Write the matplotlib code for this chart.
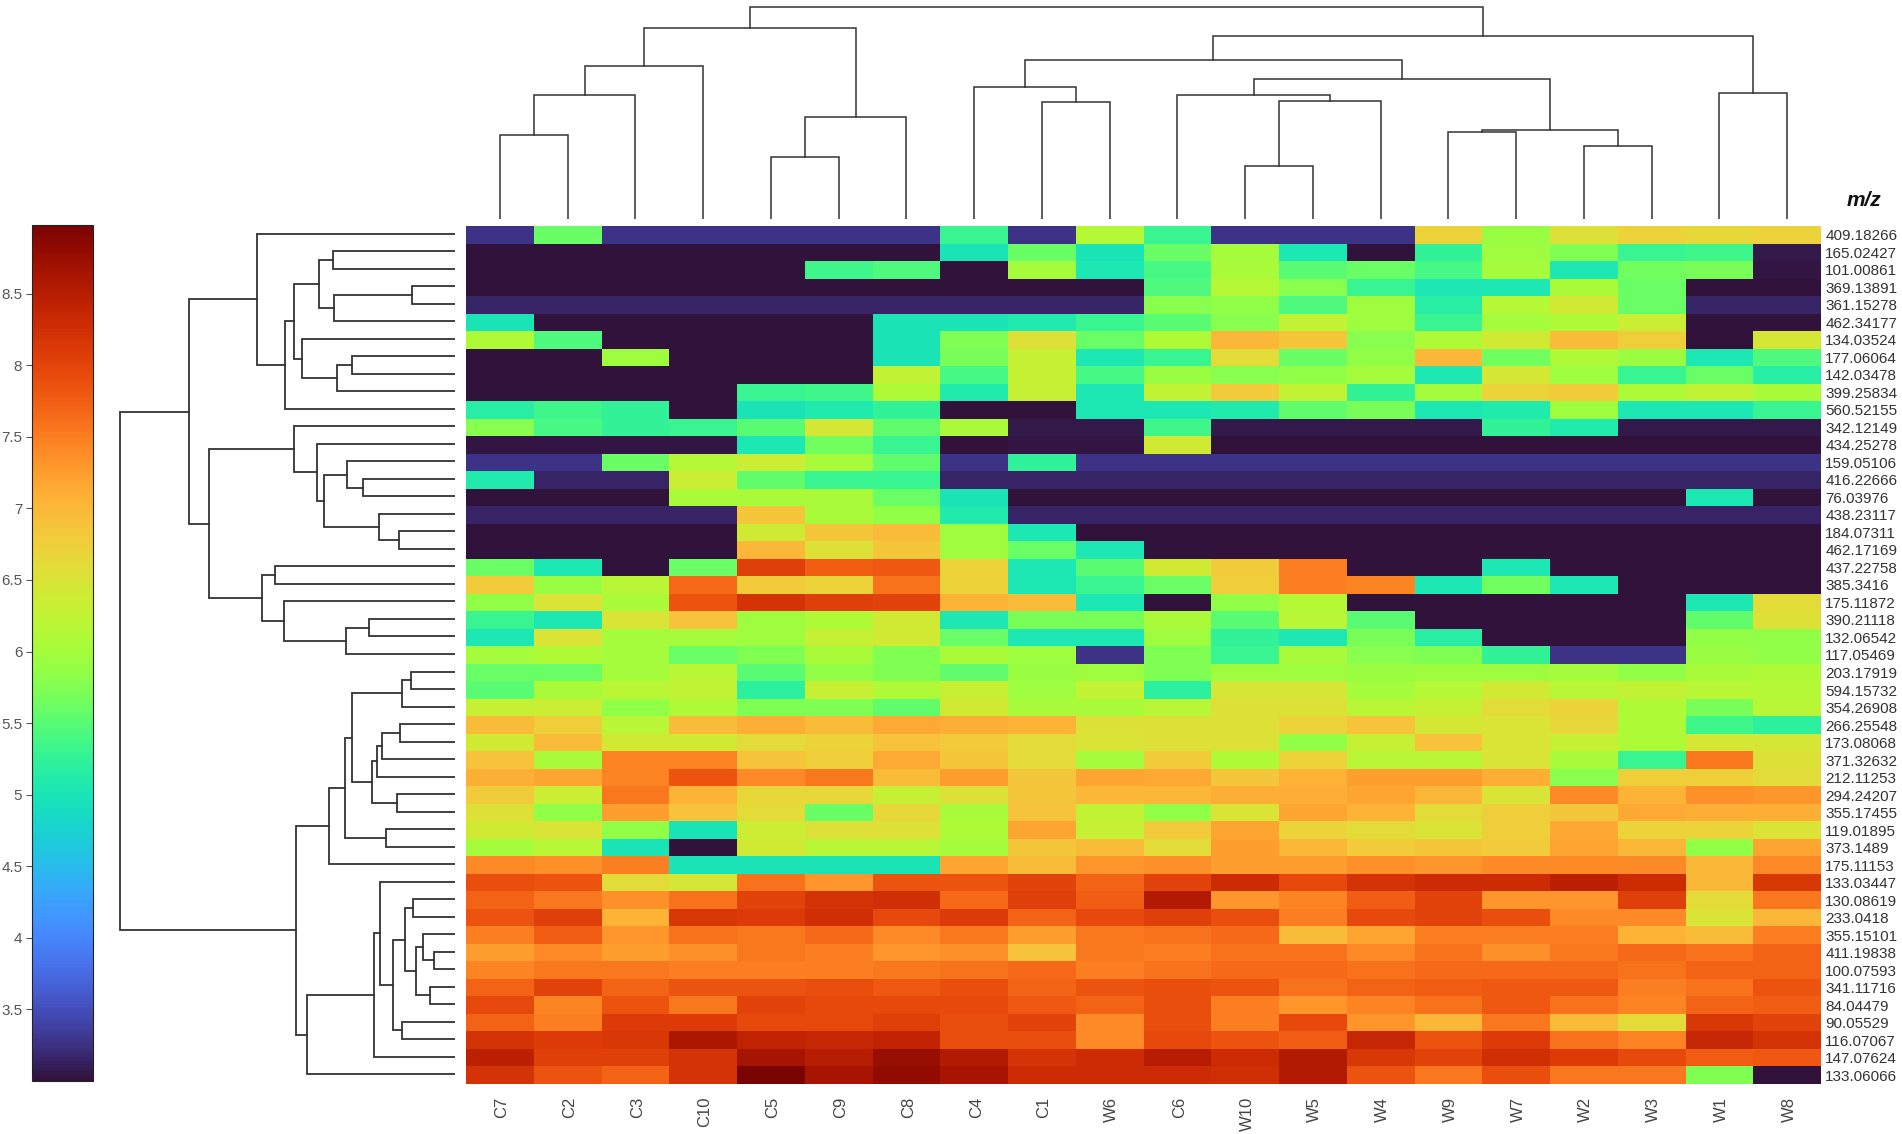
import numpy as np
import matplotlib
matplotlib.use('Agg')
import matplotlib.pyplot as plt
from matplotlib.transforms import ScaledTranslation

plt.rcParams['font.family'] = ['Liberation Sans', 'DejaVu Sans']

samples = ['C7', 'C2', 'C3', 'C10', 'C5', 'C9', 'C8', 'C4', 'C1', 'W6',
           'C6', 'W10', 'W5', 'W4', 'W9', 'W7', 'W2', 'W3', 'W1', 'W8']

mz = ['409.18266', '165.02427', '101.00861', '369.13891', '361.15278', '462.34177', '134.03524',
      '177.06064', '142.03478', '399.25834', '560.52155', '342.12149', '434.25278', '159.05106',
      '416.22666', '76.03976', '438.23117', '184.07311', '462.17169', '437.22758', '385.3416',
      '175.11872', '390.21118', '132.06542', '117.05469', '203.17919', '594.15732', '354.26908',
      '266.25548', '173.08068', '371.32632', '212.11253', '294.24207', '355.17455', '119.01895',
      '373.1489', '175.11153', '133.03447', '130.08619', '233.0418', '355.15101', '411.19838',
      '100.07593', '341.11716', '84.04479', '90.05529', '116.07067', '147.07624', '133.06066']

# one row per m/z, columns in the order of samples
intensity = [
    [3.27, 5.6, 3.27, 3.27, 3.27, 3.27, 3.27, 5.3, 3.27, 6.15, 5.3, 3.27, 3.27, 3.27, 6.7, 5.9, 6.55, 6.7, 6.65, 6.7],
    [3.0, 3.0, 3.0, 3.0, 3.0, 3.0, 3.0, 5.0, 5.6, 5.0, 5.6, 6.0, 5.05, 3.0, 5.25, 5.95, 5.75, 5.3, 5.35, 3.05],
    [3.02, 3.02, 3.02, 3.02, 3.02, 5.35, 5.45, 3.02, 6.0, 5.05, 5.4, 6.05, 5.5, 5.6, 5.4, 6.0, 5.05, 5.65, 5.7, 3.03],
    [3.0, 3.0, 3.0, 3.0, 3.0, 3.0, 3.0, 3.0, 3.0, 3.0, 5.45, 6.15, 5.8, 5.3, 5.05, 5.05, 6.05, 5.6, 3.0, 3.0],
    [3.15, 3.15, 3.15, 3.15, 3.15, 3.15, 3.15, 3.15, 3.15, 3.15, 5.8, 5.85, 5.45, 5.95, 5.15, 6.15, 6.4, 5.6, 3.15, 3.15],
    [5.0, 3.0, 3.0, 3.0, 3.0, 3.0, 5.0, 5.0, 5.1, 5.3, 5.5, 5.8, 6.25, 5.95, 5.3, 6.0, 6.1, 6.35, 3.0, 3.0],
    [6.1, 5.45, 3.02, 3.02, 3.02, 3.02, 5.0, 5.75, 6.55, 5.6, 6.1, 7.0, 6.85, 5.8, 6.1, 6.4, 6.95, 6.75, 3.0, 6.45],
    [3.0, 3.0, 5.95, 3.0, 3.0, 3.0, 5.0, 5.7, 6.3, 5.05, 5.3, 6.6, 5.6, 5.85, 7.0, 5.65, 6.1, 5.9, 5.05, 5.45],
    [3.0, 3.0, 3.0, 3.0, 3.0, 3.0, 6.25, 5.4, 6.3, 5.4, 5.9, 5.8, 5.85, 6.0, 5.05, 6.45, 5.95, 5.3, 5.6, 5.15],
    [3.02, 3.02, 3.02, 3.02, 5.3, 5.35, 6.1, 5.1, 6.3, 5.05, 6.25, 6.8, 6.25, 5.25, 6.0, 6.7, 6.8, 6.1, 6.25, 6.05],
    [5.15, 5.35, 5.25, 3.02, 5.0, 5.1, 5.25, 3.0, 3.0, 5.05, 5.05, 5.1, 5.55, 5.7, 5.05, 5.1, 5.95, 5.05, 5.05, 5.3],
    [5.8, 5.4, 5.25, 5.3, 5.5, 6.45, 5.55, 6.05, 3.05, 3.05, 5.35, 3.05, 3.05, 3.05, 3.05, 5.25, 5.1, 3.05, 3.05, 3.05],
    [3.03, 3.03, 3.03, 3.03, 5.05, 5.65, 5.3, 3.02, 3.03, 3.03, 6.4, 3.02, 3.02, 3.02, 3.02, 3.02, 3.02, 3.02, 3.02, 3.02],
    [3.27, 3.27, 5.6, 6.15, 6.35, 6.05, 5.55, 3.27, 5.25, 3.27, 3.27, 3.27, 3.27, 3.27, 3.27, 3.27, 3.27, 3.27, 3.27, 3.27],
    [5.1, 3.15, 3.15, 6.35, 5.55, 5.3, 5.3, 3.15, 3.15, 3.15, 3.15, 3.15, 3.15, 3.15, 3.15, 3.15, 3.15, 3.15, 3.15, 3.15],
    [3.0, 3.0, 3.0, 6.05, 6.05, 6.05, 5.6, 5.0, 3.0, 3.0, 3.0, 3.0, 3.0, 3.0, 3.0, 3.0, 3.0, 3.0, 5.05, 3.0],
    [3.15, 3.15, 3.15, 3.15, 6.85, 6.05, 5.85, 5.1, 3.15, 3.15, 3.15, 3.15, 3.15, 3.15, 3.15, 3.15, 3.15, 3.15, 3.15, 3.15],
    [3.02, 3.02, 3.02, 3.02, 6.4, 6.85, 6.95, 5.95, 5.05, 3.02, 3.02, 3.02, 3.02, 3.02, 3.02, 3.02, 3.02, 3.02, 3.02, 3.02],
    [3.02, 3.02, 3.02, 3.02, 7.0, 6.55, 6.85, 5.95, 5.6, 5.05, 3.02, 3.02, 3.02, 3.02, 3.02, 3.02, 3.02, 3.02, 3.02, 3.02],
    [5.6, 5.05, 3.0, 5.6, 8.05, 7.75, 7.8, 6.7, 5.05, 5.5, 6.4, 6.8, 7.5, 3.0, 3.0, 5.05, 3.0, 3.0, 3.0, 3.0],
    [6.8, 5.9, 6.2, 7.65, 6.8, 6.7, 7.6, 6.7, 5.05, 5.3, 5.6, 6.75, 7.5, 7.45, 5.05, 5.65, 5.05, 3.0, 3.0, 3.0],
    [5.85, 6.5, 6.05, 7.85, 8.2, 8.05, 8.0, 7.05, 6.95, 5.05, 3.0, 5.85, 6.15, 3.0, 3.0, 3.0, 3.0, 3.0, 5.05, 6.6],
    [5.3, 5.05, 6.5, 6.9, 5.95, 6.1, 6.4, 5.05, 5.7, 5.7, 6.05, 5.5, 6.2, 5.5, 3.0, 3.0, 3.0, 3.0, 5.55, 6.55],
    [5.05, 6.5, 6.0, 6.0, 5.95, 6.3, 6.4, 5.6, 5.05, 5.05, 5.95, 5.25, 5.05, 5.7, 5.15, 3.0, 3.0, 3.0, 5.85, 5.85],
    [6.0, 6.1, 6.0, 5.6, 5.75, 6.05, 5.75, 6.05, 5.95, 3.27, 5.75, 5.3, 6.05, 5.8, 5.75, 5.25, 3.27, 3.27, 5.9, 5.85],
    [5.6, 5.6, 6.0, 6.2, 5.5, 5.85, 5.75, 5.55, 5.9, 5.95, 5.75, 5.95, 5.95, 5.9, 5.95, 5.95, 6.0, 5.85, 6.05, 6.1],
    [5.5, 6.05, 6.2, 6.25, 5.2, 6.3, 6.1, 6.3, 5.95, 6.25, 5.2, 6.45, 6.45, 6.0, 6.15, 6.4, 6.2, 6.25, 6.2, 6.15],
    [6.3, 6.35, 5.85, 6.1, 5.75, 5.75, 5.55, 6.4, 6.05, 6.05, 6.2, 6.55, 6.55, 6.2, 6.3, 6.6, 6.7, 6.1, 5.7, 6.2],
    [6.95, 6.75, 6.2, 6.95, 7.1, 6.95, 7.15, 7.1, 7.05, 6.55, 6.55, 6.55, 6.7, 6.9, 6.45, 6.5, 6.65, 6.1, 5.35, 5.2],
    [6.4, 6.95, 6.4, 6.4, 6.6, 6.7, 6.9, 6.8, 6.6, 6.5, 6.55, 6.55, 5.85, 6.3, 6.9, 6.5, 6.3, 6.1, 6.45, 6.45],
    [6.9, 6.05, 7.45, 7.45, 6.9, 6.75, 7.15, 6.85, 6.6, 6.0, 6.8, 6.1, 6.7, 6.2, 6.2, 6.5, 6.05, 5.3, 7.55, 6.55],
    [7.1, 7.2, 7.45, 7.85, 7.4, 7.55, 6.95, 7.25, 6.85, 7.2, 7.15, 6.85, 7.05, 7.25, 7.25, 7.1, 5.8, 6.75, 6.75, 6.6],
    [6.8, 6.35, 7.55, 7.05, 6.65, 6.65, 6.3, 6.55, 6.85, 7.0, 7.0, 7.1, 7.1, 7.2, 7.0, 6.5, 7.4, 7.05, 7.35, 7.3],
    [6.55, 5.85, 7.25, 6.9, 6.6, 5.6, 6.65, 6.05, 6.9, 6.25, 5.85, 6.5, 7.2, 7.05, 6.6, 6.75, 6.85, 7.15, 7.1, 7.1],
    [6.4, 6.5, 5.85, 5.0, 6.35, 6.55, 6.55, 6.1, 7.2, 6.3, 6.8, 7.2, 6.7, 6.6, 6.5, 6.75, 7.15, 6.7, 6.7, 6.5],
    [6.0, 6.2, 5.0, 3.0, 6.4, 6.2, 6.2, 6.0, 6.85, 6.95, 6.6, 7.25, 7.0, 6.8, 6.85, 6.8, 7.2, 7.0, 5.85, 7.2],
    [7.4, 7.35, 7.5, 5.0, 5.0, 5.0, 5.0, 7.2, 6.95, 7.3, 7.35, 7.25, 7.25, 7.35, 7.3, 7.4, 7.4, 7.4, 7.0, 7.4],
    [7.9, 7.85, 6.6, 6.45, 7.6, 7.3, 7.85, 7.85, 8.0, 7.7, 8.0, 8.3, 7.95, 8.2, 8.3, 8.3, 8.45, 8.3, 7.0, 8.15],
    [7.7, 7.55, 7.35, 7.6, 8.0, 8.2, 8.25, 7.65, 8.05, 7.75, 8.55, 7.3, 7.45, 7.75, 8.0, 7.3, 7.3, 8.05, 6.6, 7.55],
    [7.85, 8.05, 7.05, 8.15, 8.1, 8.25, 7.95, 8.1, 7.7, 7.95, 8.05, 7.9, 7.5, 7.95, 8.0, 7.9, 7.4, 7.4, 6.5, 7.0],
    [7.5, 7.75, 7.3, 7.6, 7.55, 7.65, 7.4, 7.55, 7.25, 7.55, 7.6, 7.65, 6.95, 7.2, 7.5, 7.5, 7.5, 7.05, 6.95, 7.5],
    [7.25, 7.4, 7.25, 7.35, 7.55, 7.5, 7.3, 7.35, 6.9, 7.55, 7.5, 7.6, 7.6, 7.4, 7.6, 7.35, 7.55, 7.65, 7.6, 7.7],
    [7.45, 7.55, 7.55, 7.5, 7.5, 7.5, 7.55, 7.6, 7.65, 7.5, 7.6, 7.65, 7.65, 7.6, 7.65, 7.65, 7.65, 7.6, 7.7, 7.7],
    [7.7, 8.0, 7.7, 7.85, 7.85, 7.9, 7.8, 7.9, 7.7, 7.85, 7.9, 7.85, 7.6, 7.7, 7.75, 7.8, 7.8, 7.5, 7.6, 7.85],
    [7.95, 7.45, 7.85, 7.55, 8.0, 7.95, 7.95, 7.95, 7.8, 7.7, 7.9, 7.5, 7.3, 7.45, 7.6, 7.8, 7.6, 7.45, 7.7, 7.75],
    [7.7, 7.5, 8.1, 8.1, 7.95, 7.95, 8.05, 7.9, 8.0, 7.4, 7.9, 7.5, 7.95, 7.3, 7.0, 7.55, 6.95, 6.6, 8.15, 8.0],
    [8.2, 8.1, 8.15, 8.6, 8.4, 8.35, 8.4, 7.9, 7.9, 7.4, 7.95, 7.85, 7.75, 8.35, 7.85, 8.1, 7.6, 7.45, 8.35, 8.2],
    [8.45, 8.05, 8.05, 8.2, 8.65, 8.5, 8.75, 8.55, 8.2, 8.3, 8.5, 8.3, 8.55, 8.15, 8.0, 8.25, 8.1, 7.95, 7.75, 7.8],
    [8.2, 7.85, 7.7, 8.2, 8.98, 8.65, 8.8, 8.65, 8.3, 8.3, 8.3, 8.25, 8.55, 7.85, 7.55, 7.9, 7.55, 7.55, 5.75, 3.0],
]

# linkage tables: (child, child, distance); ids >= n are earlier merges
column_links = [
    (0, 1, 84), (20, 2, 124), (21, 3, 153), (4, 5, 62), (23, 6, 102), (22, 24, 191),
    (8, 9, 117), (7, 26, 132), (11, 12, 53), (28, 13, 118), (10, 29, 124), (14, 15, 87),
    (16, 17, 73), (31, 32, 89), (30, 33, 140), (27, 34, 159), (18, 19, 126), (35, 36, 183),
    (25, 37, 212),
]

row_links = [
    (1, 2, 121.7), (3, 4, 43.3), (50, 5, 121), (49, 51, 135.7), (7, 8, 102.7), (53, 9, 118),
    (6, 54, 152.7), (52, 55, 160.7), (56, 10, 170.3), (0, 57, 198), (17, 18, 56), (16, 59, 76),
    (14, 15, 92), (13, 61, 108), (62, 60, 131), (12, 63, 137.7), (11, 64, 161.3), (19, 20, 179.7),
    (22, 23, 86.3), (67, 24, 109.3), (21, 68, 171), (66, 69, 193), (65, 70, 245.7), (58, 71, 265.7),
    (25, 26, 43.7), (73, 27, 52.7), (28, 29, 55), (75, 30, 73.3), (76, 31, 78.3), (32, 33, 57.7),
    (77, 78, 83.3), (74, 79, 102.7), (34, 35, 69), (80, 81, 110), (82, 36, 126), (38, 39, 41.7),
    (41, 42, 21.3), (40, 85, 32.3), (43, 44, 25), (86, 87, 38.7), (84, 88, 49.7), (45, 46, 53.3),
    (89, 90, 62), (37, 91, 75.3), (92, 47, 81), (93, 48, 148), (83, 94, 159), (72, 95, 334.7),
]

W, H = 1902, 1134


def px_axes(fig, left, top, right, bottom):
    return fig.add_axes([left / W, 1 - bottom / H, (right - left) / W, (bottom - top) / H])


def tree_segments(links, n):
    pos = {i: i + 0.5 for i in range(n)}
    height = {i: 0.0 for i in range(n)}
    segs = []
    for k, (a, b, d) in enumerate(links):
        segs.append(([pos[a], pos[a], pos[b], pos[b]], [height[a], d, d, height[b]]))
        pos[n + k] = (pos[a] + pos[b]) / 2
        height[n + k] = d
    return segs


fig = plt.figure(figsize=(W / 100, H / 100), dpi=100)

ax = px_axes(fig, 466, 226, 1821, 1084)
mesh = ax.pcolormesh(np.array(intensity), cmap='turbo', vmin=3.0, vmax=8.98)
ax.set_ylim(len(mz), 0)
ax.set_xticks(np.arange(len(samples)) + 0.5)
ax.set_xticklabels(samples, rotation=90, fontsize=12, color='#444444')
ax.set_yticks(np.arange(len(mz)) + 0.5)
ax.set_yticklabels(mz, fontsize=11, color='#333333')
ax.yaxis.tick_right()
ax.tick_params(length=0)
ax.tick_params(axis='x', pad=9)
ax.tick_params(axis='y', pad=3)
nudge = ScaledTranslation(2 / 100, 0, fig.dpi_scale_trans)
for lab in ax.get_xticklabels():
    lab.set_transform(lab.get_transform() + nudge)
for spine in ax.spines.values():
    spine.set_visible(False)

top = px_axes(fig, 466, 0, 1821, 219)
for xs, ys in tree_segments(column_links, len(samples)):
    top.plot(xs, ys, color='#333333', lw=1.1, solid_joinstyle='miter')
top.set_xlim(0, len(samples))
top.set_ylim(0, 219)
top.axis('off')

left = px_axes(fig, 0, 225, 455, 1083)
for xs, ys in tree_segments(row_links, len(mz)):
    left.plot(ys, xs, color='#333333', lw=1.3, solid_joinstyle='miter')
left.set_xlim(455, 0)
left.set_ylim(len(mz), 0)
left.axis('off')

cax = px_axes(fig, 32, 225, 93, 1081)
cbar = fig.colorbar(mesh, cax=cax)
cbar.set_ticks([3.5, 4, 4.5, 5, 5.5, 6, 6.5, 7, 7.5, 8, 8.5])
cbar.set_ticklabels(['3.5', '4', '4.5', '5', '5.5', '6', '6.5', '7', '7.5', '8', '8.5'])
cbar.ax.yaxis.set_ticks_position('left')
cbar.ax.tick_params(length=4, width=0.8, color='#555555', labelsize=11, labelcolor='#555555', pad=3)
cbar.outline.set_edgecolor('#222222')
cbar.outline.set_linewidth(0.8)

fig.text(1864 / W, 1 - 201 / H, 'm/z', fontsize=15, fontweight='bold', fontstyle='italic',
         ha='center', va='center', color='#111111')

fig.savefig('out.png', dpi=100)
